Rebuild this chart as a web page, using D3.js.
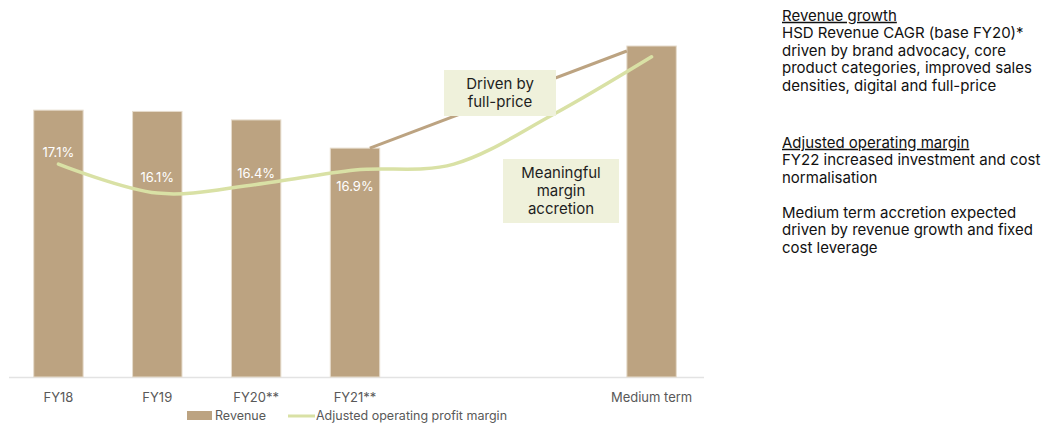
<!DOCTYPE html>
<html><head><meta charset="utf-8">
<script src="https://cdn.jsdelivr.net/npm/d3@7"></script>
<style>
html,body{margin:0;padding:0;background:#fff;}
svg{display:block;font-family:Inter,"Noto Sans",sans-serif;}
</style></head>
<body><svg id="chart" width="1053" height="423"></svg>
<script>
// ---- data ----
const categories = ["FY18","FY19","FY20**","FY21**","s4","s5","Medium term"];
const barCategories = ["FY18","FY19","FY20**","FY21**","Medium term"];
const revenue = [2733, 2720, 2633, 2344, 3390];            // £m (medium term estimated)
const lineCategories = ["FY18","FY19","FY20**","FY21**","s4","s5","Medium term"];
const margin = [17.1, 16.1, 16.4, 16.9, 17.1, 18.8, 20.8]; // % (hidden points)
const marginLabels = ["17.1%","16.1%","16.4%","16.9%"];
const labelOffsets = [-12,-16,-11,17];
const tickLabels = {"FY18":"FY18","FY19":"FY19","FY20**":"FY20**","FY21**":"FY21**","s4":"","s5":"","Medium term":"Medium term"};
const callouts = [
  {lines:["Driven by","full-price"], x0:444, y0:70, w:112, h:46},
  {lines:["Meaningful","margin","accretion"], x0:503, y0:159, w:116, h:64}
];
const sidePanel = [
  {text:"Revenue growth", u:true, y:15.5},
  {text:"HSD Revenue CAGR (base FY20)*", y:33},
  {text:"driven by brand advocacy, core", y:50.5},
  {text:"product categories, improved sales", y:68},
  {text:"densities, digital and full-price", y:85.5},
  {text:"Adjusted operating margin", u:true, y:142.5},
  {text:"FY22 increased investment and cost", y:160},
  {text:"normalisation", y:177.5},
  {text:"Medium term accretion expected", y:212.5},
  {text:"driven by revenue growth and fixed", y:230},
  {text:"cost leverage", y:247.5}
];
const BAR = "#bca381", GREEN = "#d9e1a5", BOXFILL = "#eff1db";

const svg = d3.select("#chart");
const x = d3.scaleBand().domain(categories).range([9, 701]).paddingInner(0.5).paddingOuter(0.25);
const y = d3.scaleLinear().domain([0, 3390]).range([377, 46]);
const yM = d3.scaleLinear().domain([10, 22]).range([370, 22]);
const cx = c => x(c) + x.bandwidth()/2;

// axis
const axis = d3.axisBottom(x).tickSize(0).tickPadding(16).tickFormat(d => tickLabels[d]);
const ag = svg.append("g").attr("transform","translate(0,377)").call(axis);
ag.select(".domain").remove();
ag.selectAll("text").attr("fill","#595959").style("font-size","13px").style("font-family","Inter,'Noto Sans',sans-serif");
svg.append("line").attr("x1",9).attr("x2",704).attr("y1",377.5).attr("y2",377.5).attr("stroke","#e3e3e3").attr("stroke-width",1.5);

// bars
svg.append("g").selectAll("rect").data(barCategories).join("rect")
  .attr("x", d => x(d)).attr("width", x.bandwidth())
  .attr("y", (d,i) => y(revenue[i])).attr("height", (d,i) => y(0) - y(revenue[i]))
  .attr("fill", BAR).attr("stroke","#e6dccd").attr("stroke-width",1);

// revenue growth connector
const iF = barCategories.indexOf("FY21**"), iM = barCategories.indexOf("Medium term");
svg.append("line")
  .attr("x1", x("FY21**") + x.bandwidth()*0.8).attr("y1", y(revenue[iF]))
  .attr("x2", x("Medium term")).attr("y2", y(revenue[iM]) + 5)
  .attr("stroke", BAR).attr("stroke-width", 3);

// margin line
const lineGen = d3.line().x((d,i) => cx(lineCategories[i])).y(d => yM(d)).curve(d3.curveCardinal.tension(0));
svg.append("path").datum(margin).attr("d", lineGen)
  .attr("fill","none").attr("stroke", GREEN).attr("stroke-width", 3.5).attr("stroke-linecap","round");

// margin labels
svg.append("g").selectAll("text").data(marginLabels).join("text")
  .attr("x", (d,i) => cx(lineCategories[i]))
  .attr("y", (d,i) => yM(margin[i]) + labelOffsets[i])
  .attr("dy","0.35em").attr("text-anchor","middle")
  .attr("fill","#fff").style("font-size","13px").text(d => d);

// callouts
callouts.forEach(c => {
  svg.append("rect").attr("x",c.x0).attr("y",c.y0).attr("width",c.w).attr("height",c.h).attr("fill",BOXFILL);
  const lh = 18, start = c.y0 + c.h/2 - (c.lines.length-1)*lh/2;
  c.lines.forEach((l,j) => svg.append("text").attr("x", c.x0 + c.w/2).attr("y", start + j*lh)
    .attr("dy","0.35em").attr("text-anchor","middle").attr("fill","#1e1e1e").style("font-size","15px").text(l));
});

// legend
const lg = svg.append("g");
lg.append("rect").attr("x",187).attr("y",411).attr("width",25).attr("height",9).attr("fill",BAR);
lg.append("text").attr("x",215).attr("y",416).attr("dy","0.35em").attr("fill","#595959").style("font-size","12.5px").text("Revenue");
lg.append("line").attr("x1",288).attr("x2",315).attr("y1",416).attr("y2",416).attr("stroke",GREEN).attr("stroke-width",3);
lg.append("text").attr("x",316).attr("y",416).attr("dy","0.35em").attr("fill","#595959").style("font-size","12.5px").text("Adjusted operating profit margin");

// side panel
svg.append("g").selectAll("text").data(sidePanel).join("text")
  .attr("x",782).attr("y", d => d.y).attr("dy","0.35em")
  .attr("fill","#111").style("font-size","15px")
  .style("text-decoration", d => d.u ? "underline" : null)
  .text(d => d.text);
</script></body></html>
